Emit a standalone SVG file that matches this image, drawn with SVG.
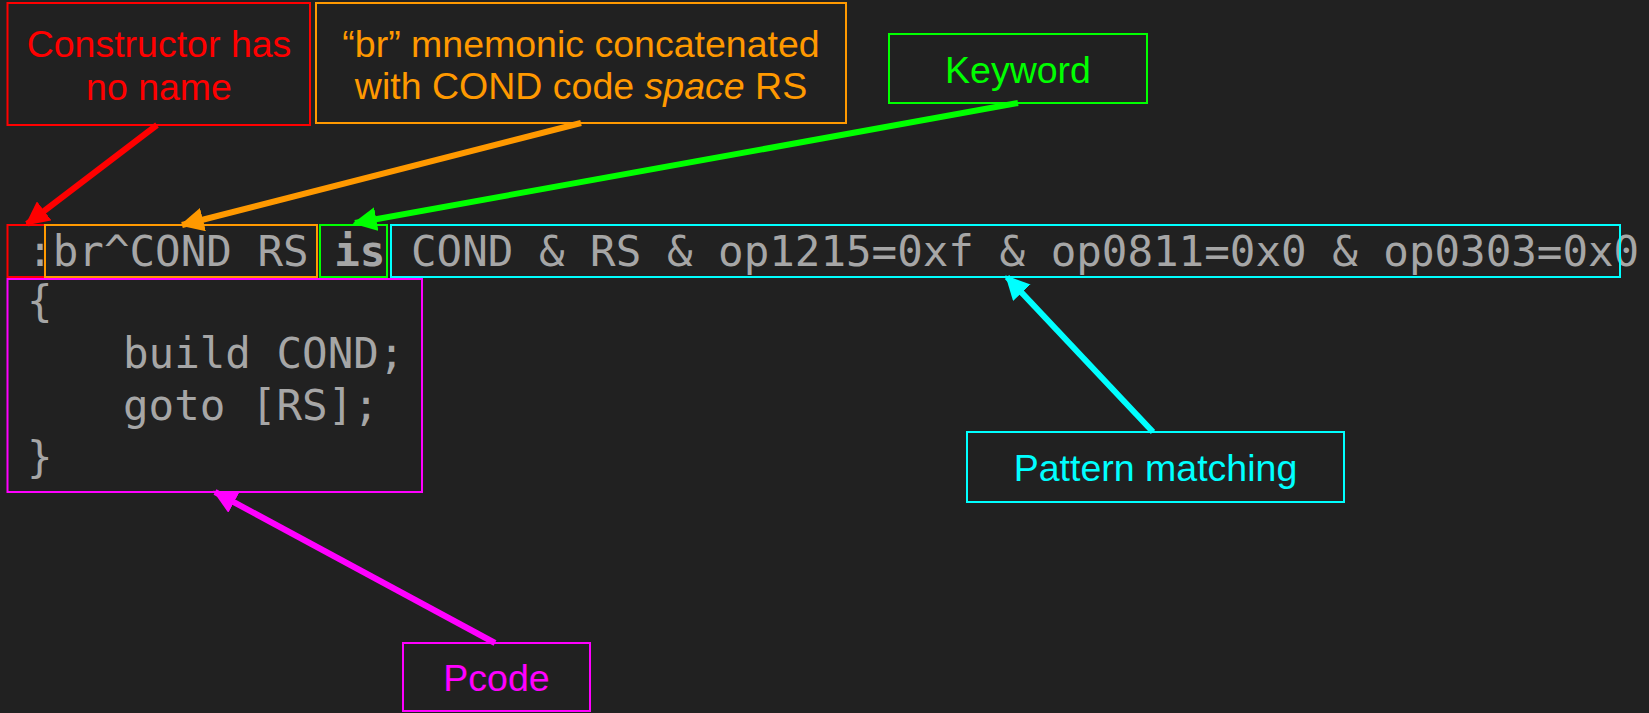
<svg xmlns="http://www.w3.org/2000/svg" width="1649" height="713" viewBox="0 0 1649 713">
<defs>
<style>
.lbl{font-family:"Liberation Sans",Arial,sans-serif;font-size:37.5px;text-anchor:middle}
.code{font-family:"DejaVu Sans Mono","Liberation Mono",monospace;font-size:42.5px;fill:#a6a6a6}
.box{fill:none;stroke-width:2}
.arr{fill:none;stroke-width:6}
</style>
<marker id="mR" viewBox="0 0 10 10" refX="9" refY="5" markerWidth="24" markerHeight="24" markerUnits="userSpaceOnUse" orient="auto"><path d="M0,0 L10,5 L0,10 Z" fill="#ff0000"/></marker>
<marker id="mO" viewBox="0 0 10 10" refX="9" refY="5" markerWidth="24" markerHeight="24" markerUnits="userSpaceOnUse" orient="auto"><path d="M0,0 L10,5 L0,10 Z" fill="#ff9900"/></marker>
<marker id="mG" viewBox="0 0 10 10" refX="9" refY="5" markerWidth="24" markerHeight="24" markerUnits="userSpaceOnUse" orient="auto"><path d="M0,0 L10,5 L0,10 Z" fill="#00ff00"/></marker>
<marker id="mC" viewBox="0 0 10 10" refX="9" refY="5" markerWidth="24" markerHeight="24" markerUnits="userSpaceOnUse" orient="auto"><path d="M0,0 L10,5 L0,10 Z" fill="#00ffff"/></marker>
<marker id="mM" viewBox="0 0 10 10" refX="9" refY="5" markerWidth="24" markerHeight="24" markerUnits="userSpaceOnUse" orient="auto"><path d="M0,0 L10,5 L0,10 Z" fill="#ff00ff"/></marker>
</defs>
<rect x="0" y="0" width="1649" height="713" fill="#212121"/>

<g id="code">
<text class="code" x="1.6" y="266" xml:space="preserve"> :br^COND RS <tspan font-weight="bold">is</tspan> COND &amp; RS &amp; op1215=0xf &amp; op0811=0x0 &amp; op0303=0x0</text>
<text class="code" x="27" y="316">{</text>
<text class="code" x="123" y="368">build COND;</text>
<text class="code" x="123" y="420">goto [RS];</text>
<text class="code" x="27" y="472">}</text>
</g>

<g id="highlight-boxes">
<rect class="box" x="7.5" y="225" width="37.5" height="52" stroke="#ff0000"/>
<rect class="box" x="45" y="225" width="272" height="52" stroke="#ff9900"/>
<rect class="box" x="320" y="225" width="67" height="52" stroke="#00ff00"/>
<rect class="box" x="391" y="225" width="1229" height="52" stroke="#00ffff"/>
<rect class="box" x="7.5" y="279" width="414.5" height="213" stroke="#ff00ff"/>
</g>

<g id="n-constructor">
<rect class="box" x="7.5" y="3" width="302.5" height="122" stroke="#ff0000"/>
<text class="lbl" fill="#ff0000" x="159" y="57">Constructor has</text>
<text class="lbl" fill="#ff0000" x="159" y="100">no name</text>
</g>

<g id="n-mnemonic">
<rect class="box" x="316" y="3" width="530" height="120" stroke="#ff9900"/>
<text class="lbl" fill="#ff9900" x="581" y="57">“br” mnemonic concatenated</text>
<text class="lbl" fill="#ff9900" x="581" y="99">with COND code <tspan font-style="italic">space</tspan> RS</text>
</g>

<g id="n-keyword">
<rect class="box" x="889" y="34" width="258" height="69" stroke="#00ff00"/>
<text class="lbl" fill="#00ff00" x="1018" y="83">Keyword</text>
</g>

<g id="n-pattern">
<rect class="box" x="967" y="432" width="377" height="70" stroke="#00ffff"/>
<text class="lbl" fill="#00ffff" x="1155.5" y="481">Pattern matching</text>
</g>

<g id="n-pcode">
<rect class="box" x="403" y="643" width="187" height="68" stroke="#ff00ff"/>
<text class="lbl" fill="#ff00ff" x="496.5" y="691">Pcode</text>
</g>

<g id="connectors">
<line class="arr" x1="157" y1="125" x2="27" y2="224" stroke="#ff0000" marker-end="url(#mR)"/>
<line class="arr" x1="581" y1="123" x2="182" y2="225" stroke="#ff9900" marker-end="url(#mO)"/>
<line class="arr" x1="1018" y1="103" x2="355" y2="223" stroke="#00ff00" marker-end="url(#mG)"/>
<line class="arr" x1="1153" y1="432" x2="1007" y2="277" stroke="#00ffff" marker-end="url(#mC)"/>
<line class="arr" x1="495" y1="643" x2="215" y2="492" stroke="#ff00ff" marker-end="url(#mM)"/>
</g>
</svg>
